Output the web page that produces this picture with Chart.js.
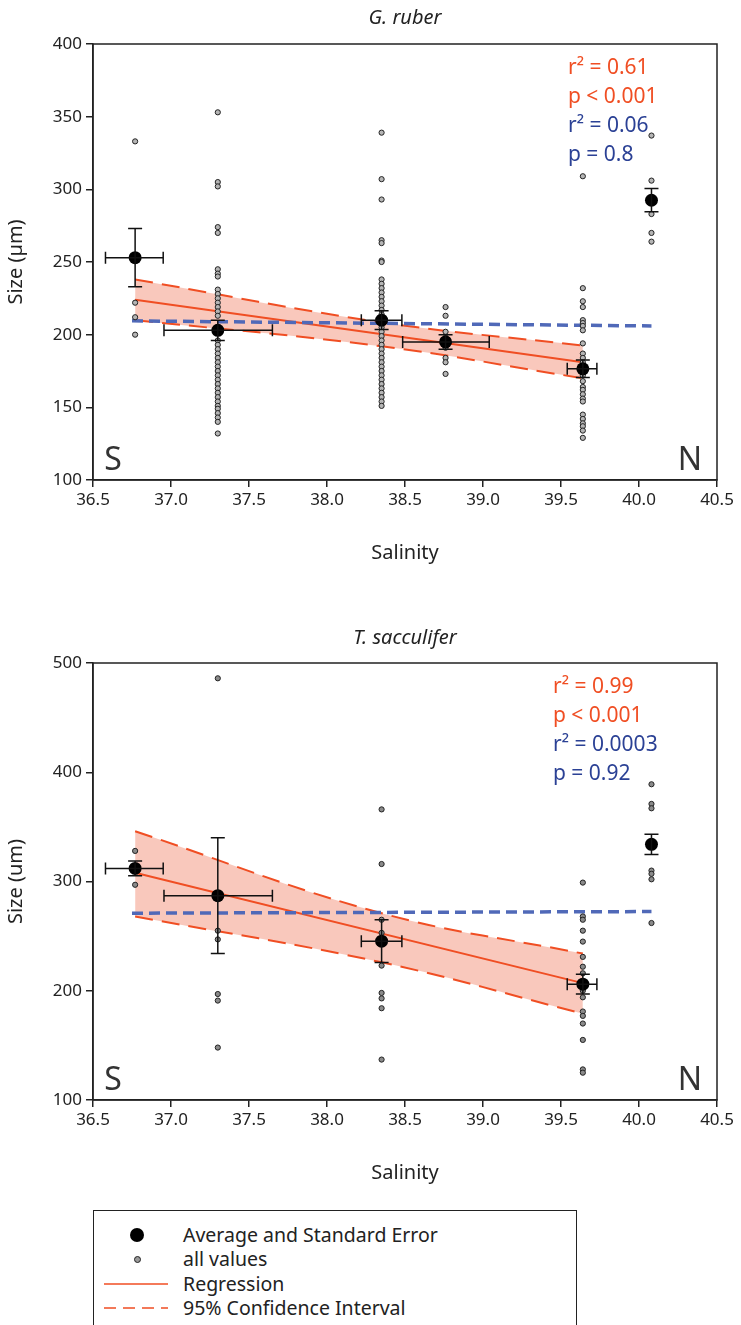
<!DOCTYPE html>
<html>
<head>
<meta charset="utf-8">
<script src="https://cdn.jsdelivr.net/npm/chart.js@4.4.1/dist/chart.umd.min.js"></script>
<style>
body{margin:0;background:#fff;width:741px;height:1325px;position:relative;overflow:hidden;font-family:"Noto Sans",sans-serif;color:#222;}
.box{position:absolute;left:0;width:741px;height:590px;}
#legend{position:absolute;left:93px;top:1210px;width:484px;height:140px;border:1.5px solid #222;box-sizing:border-box;}
.row{position:absolute;left:0;width:100%;height:24px;font-size:19.5px;line-height:24px;}
.row span.t{position:absolute;left:89px;top:0;}
.sym{position:absolute;}
</style>
</head>
<body>
<div class="box" style="top:0"><canvas id="ruber" width="741" height="590"></canvas></div>
<div class="box" style="top:620px"><canvas id="sacc" width="741" height="590"></canvas></div>
<div id="legend">
  <div class="row" style="top:12px"><div class="sym" style="left:36px;top:5px;width:14px;height:14px;border-radius:50%;background:#000"></div><span class="t">Average and Standard Error</span></div>
  <div class="row" style="top:36px"><div class="sym" style="left:40px;top:9px;width:5px;height:5px;border-radius:50%;background:#999;border:1px solid #222"></div><span class="t">all values</span></div>
  <div class="row" style="top:61px"><svg class="sym" style="left:10px;top:10px" width="64" height="4"><line x1="0" y1="2" x2="64" y2="2" stroke="#f04e23" stroke-width="1.5"/></svg><span class="t">Regression</span></div>
  <div class="row" style="top:85px"><svg class="sym" style="left:10px;top:10px" width="64" height="4"><line x1="0" y1="2" x2="64" y2="2" stroke="#f04e23" stroke-width="1.5" stroke-dasharray="12 7"/></svg><span class="t">95% Confidence Interval</span></div>
</div>
<script>
// G. ruber
var ruberSalinity = [36.77, 37.30, 38.35, 38.76, 39.64, 40.08];
var ruberValues = [
	[333, 222, 212, 200],
	[353, 305, 302, 274, 270, 245, 242, 240, 231, 228, 225, 222, 219, 216, 213, 196, 193, 190, 187, 184, 181, 178, 175, 172, 169, 166, 163, 160, 157, 154, 151, 149, 146, 143, 140, 132],
	[339, 307, 293, 265, 263, 251, 250, 238, 235, 232, 229, 226, 223, 220, 217, 214, 211, 205, 202, 199, 196, 193, 190, 187, 184, 181, 178, 175, 172, 169, 166, 163, 160, 157, 154, 151],
	[219, 213, 202, 198, 191, 184, 181, 173],
	[309, 232, 223, 219, 210, 208, 206, 203, 194, 187, 184, 181, 172, 168, 164, 162, 159, 156, 154, 145, 142, 139, 137, 134, 129],
	[337, 306, 283, 270, 264]
];
var ruberMean = [253, 203, 210, 195, 176.5, 292.5];
var ruberSE = [20, 7, 6.5, 5, 6, 8];
var ruberSalLo = [36.58, 36.955, 38.22, 38.485, 39.54, 40.08];
var ruberSalHi = [36.95, 37.65, 38.48, 39.04, 39.73, 40.08];
var ruberFitX = [36.77, 39.64];
var ruberFit = [224, 181];
var ruberCiX = [36.77, 38.35, 39.64];
var ruberCiUpper = [238, 208.5, 192.5];
var ruberCiLower = [210, 192, 170];
var ruberFlatX = [36.75, 40.08];
var ruberFlat = [209.5, 206];

// T. sacculifer
var saccSalinity = [36.77, 37.30, 38.35, 39.64, 40.08];
var saccValues = [
	[328, 297],
	[486, 255, 247, 197, 191, 148],
	[366, 316, 265, 253, 223, 198, 193, 184, 137],
	[299, 268, 265, 255, 245, 231, 222, 216, 200, 194, 181, 177, 170, 155, 128, 125],
	[389, 371, 367, 310, 307, 302, 262]
];
var saccMean = [312, 287, 245.4, 206, 334];
var saccSE = [6.7, 53, 19.5, 9, 9.3];
var saccSalLo = [36.58, 36.955, 38.22, 39.54, 40.08];
var saccSalHi = [36.95, 37.65, 38.48, 39.73, 40.08];
var saccFitX = [36.77, 39.64];
var saccFit = [308, 207];
var saccCiX = [36.77, 38.35, 39.64];
var saccCiUpper = [346, 271, 234];
var saccCiLower = [268, 226, 179];
var saccFlatX = [36.75, 40.08];
var saccFlat = [271, 272.5];

var salinityTicks = [36.5, 37.0, 37.5, 38.0, 38.5, 39.0, 39.5, 40.0, 40.5];

var red = '#f04e23', blue = '#2b4195', dashBlue = '#5069b8', pink = 'rgba(246,170,152,0.65)';

function pts(xs, ys){
	return xs.map(function(x, i){ return {x: x, y: ys[i]}; });
}

var errorBars = {
	id: 'errorBars',
	afterDatasetsDraw: function(chart, args, opts){
		var ctx = chart.ctx, sx = chart.scales.x, sy = chart.scales.y;
		ctx.save();
		ctx.strokeStyle = '#111';
		ctx.lineWidth = 1.5;
		opts.x.forEach(function(v, i){
			var px = sx.getPixelForValue(v);
			var y1 = sy.getPixelForValue(opts.mean[i] + opts.se[i]);
			var y2 = sy.getPixelForValue(opts.mean[i] - opts.se[i]);
			var py = sy.getPixelForValue(opts.mean[i]);
			ctx.beginPath();
			ctx.moveTo(px, y1); ctx.lineTo(px, y2);
			ctx.moveTo(px - 7, y1); ctx.lineTo(px + 7, y1);
			ctx.moveTo(px - 7, y2); ctx.lineTo(px + 7, y2);
			if(opts.hi[i] > opts.lo[i]){
				var xa = sx.getPixelForValue(opts.lo[i]), xb = sx.getPixelForValue(opts.hi[i]);
				ctx.moveTo(xa, py); ctx.lineTo(xb, py);
				ctx.moveTo(xa, py - 6); ctx.lineTo(xa, py + 6);
				ctx.moveTo(xb, py - 6); ctx.lineTo(xb, py + 6);
			}
			ctx.stroke();
		});
		ctx.restore();
	}
};

var decor = {
	id: 'decor',
	afterDraw: function(chart, args, opts){
		var ctx = chart.ctx, a = chart.chartArea;
		ctx.save();
		ctx.strokeStyle = '#222';
		ctx.lineWidth = 1.5;
		ctx.strokeRect(a.left, a.top, a.right - a.left, a.bottom - a.top);
		ctx.fillStyle = '#222';
		ctx.textAlign = 'center';
		ctx.textBaseline = 'middle';
		ctx.font = 'italic 20px "Noto Sans"';
		ctx.fillText(opts.title, (a.left + a.right) / 2, opts.titleY);
		ctx.fillStyle = '#333';
		ctx.font = '32px "Noto Sans"';
		ctx.fillText('S', a.left + 20, a.bottom - 19);
		ctx.fillText('N', a.right - 27, a.bottom - 19);
		ctx.textAlign = 'left';
		ctx.font = '21px "Noto Sans"';
		opts.notes.forEach(function(n, i){
			ctx.fillStyle = i < 2 ? red : blue;
			ctx.fillText(n, opts.noteX, a.top + opts.noteY + i * 29);
		});
		ctx.restore();
	}
};

function makeChart(id, c){
	var all = [];
	c.values.forEach(function(col, i){
		col.forEach(function(v){ all.push({x: c.salinity[i], y: v}); });
	});
	var line = {showLine: true, pointRadius: 0, fill: false};
	return new Chart(document.getElementById(id), {
		type: 'scatter',
		data: {
			datasets: [
				{ label: 'Average and Standard Error', data: pts(c.salinity, c.mean), pointRadius: 6.5, backgroundColor: '#000', borderWidth: 0 },
				{ label: 'all values', data: all, pointRadius: 2.6, backgroundColor: c.dotColor, borderColor: '#222', borderWidth: 1 },
				Object.assign({ label: 'flat', data: pts(c.flatX, c.flat), borderColor: dashBlue, borderWidth: 3.5, borderDash: [11, 6] }, line),
				Object.assign({ label: 'Regression', data: pts(c.fitX, c.fit), borderColor: red, borderWidth: 2 }, line),
				Object.assign({ label: 'CI upper', data: pts(c.ciX, c.ciUpper), borderColor: red, borderWidth: 2, borderDash: [18, 9], tension: 0.4 }, line),
				Object.assign({}, line, { label: 'CI lower', data: pts(c.ciX, c.ciLower), borderColor: red, borderWidth: 2, borderDash: [18, 9], tension: 0.4, fill: {target: 4}, backgroundColor: pink })
			]
		},
		options: {
			responsive: false,
			animation: false,
			devicePixelRatio: 1,
			layout: { padding: { top: c.padTop, right: 24, bottom: 21, left: 0 } },
			plugins: {
				legend: { display: false },
				tooltip: { enabled: false },
				errorBars: { x: c.salinity, mean: c.mean, se: c.se, lo: c.lo, hi: c.hi },
				decor: { title: c.title, titleY: c.titleY, notes: c.notes, noteX: c.noteX, noteY: 24 }
			},
			scales: {
				x: {
					type: 'linear', min: 36.5, max: 40.5,
					afterBuildTicks: function(s){ s.ticks = salinityTicks.map(function(v){ return {value: v}; }); },
					afterFit: function(s){ s.height = 89; },
					ticks: { callback: function(v){ return v.toFixed(1); }, color: '#222', font: { size: 17, family: 'Noto Sans' }, padding: 3, autoSkip: false, maxRotation: 0 },
					grid: { drawOnChartArea: false, tickLength: 7, color: '#222', lineWidth: 1.5 },
					border: { color: '#222', width: 1.5 },
					title: { display: true, text: 'Salinity', color: '#222', font: { size: 20, family: 'Noto Sans' } }
				},
				y: {
					min: c.yMin, max: c.yMax,
					afterFit: function(s){ s.width = 93; },
					ticks: { stepSize: c.yStep, color: '#222', font: { size: 17, family: 'Noto Sans' }, padding: 4 },
					grid: { drawOnChartArea: false, tickLength: 7, color: '#222', lineWidth: 1.5 },
					border: { color: '#222', width: 1.5 },
					title: { display: true, text: c.yTitle, color: '#222', font: { size: 20, family: 'Noto Sans' } }
				}
			}
		},
		plugins: [errorBars, decor]
	});
}

makeChart('ruber', {
	salinity: ruberSalinity, values: ruberValues, mean: ruberMean, se: ruberSE, lo: ruberSalLo, hi: ruberSalHi,
	fitX: ruberFitX, fit: ruberFit, ciX: ruberCiX, ciUpper: ruberCiUpper, ciLower: ruberCiLower, flatX: ruberFlatX, flat: ruberFlat,
	yMin: 100, yMax: 400, yStep: 50, yTitle: 'Size (µm)', title: 'G. ruber', titleY: 18, padTop: 44,
	notes: ['r² = 0.61', 'p < 0.001', 'r² = 0.06', 'p = 0.8'], noteX: 568, dotColor: '#b5b5b5'
});

makeChart('sacc', {
	salinity: saccSalinity, values: saccValues, mean: saccMean, se: saccSE, lo: saccSalLo, hi: saccSalHi,
	fitX: saccFitX, fit: saccFit, ciX: saccCiX, ciUpper: saccCiUpper, ciLower: saccCiLower, flatX: saccFlatX, flat: saccFlat,
	yMin: 100, yMax: 500, yStep: 100, yTitle: 'Size (um)', title: 'T. sacculifer', titleY: 18, padTop: 43,
	notes: ['r² = 0.99', 'p < 0.001', 'r² = 0.0003', 'p = 0.92'], noteX: 553, dotColor: '#8a8a8a'
});
</script>
</body>
</html>
